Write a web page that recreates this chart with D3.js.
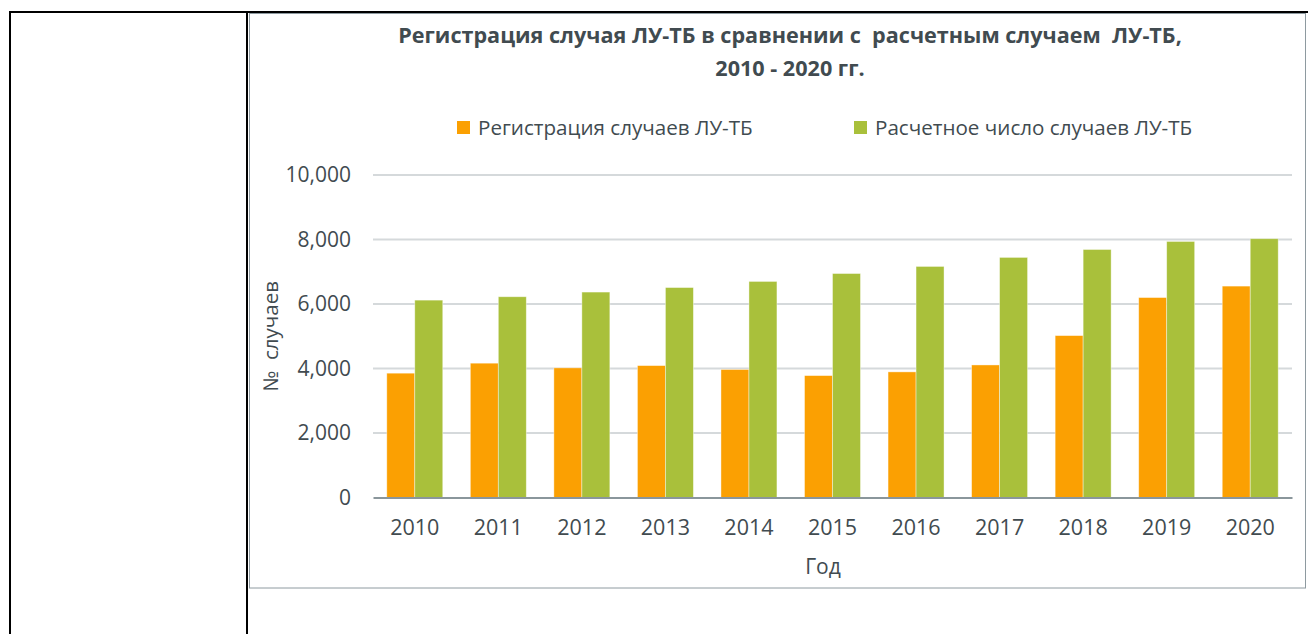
<!DOCTYPE html>
<html>
<head>
<meta charset="utf-8">
<script src="https://cdn.jsdelivr.net/npm/d3@7"></script>
<style>
  body { margin: 0; background: #fff; }
  svg { display: block; font-family: "Open Sans", sans-serif; }
</style>
</head>
<body>
<svg id="chart" width="1310" height="634"></svg>
<script>
// data
const years = ["2010", "2011", "2012", "2013", "2014", "2015", "2016", "2017", "2018", "2019", "2020"];
const registered = [3855, 4165, 4020, 4090, 3970, 3780, 3895, 4110, 5020, 6200, 6555];
const estimated = [6120, 6225, 6370, 6510, 6700, 6945, 7165, 7445, 7690, 7940, 8025];
const seriesNames = ["Регистрация случаев ЛУ-ТБ", "Расчетное число случаев ЛУ-ТБ"];
const yTicks = [0, 2000, 4000, 6000, 8000, 10000];

const colors = ["#FBA002", "#A9C03B"];
const textColor = "#414B50";

const svg = d3.select("#chart");

// table frame around the chart
svg.append("line").attr("x1", 10).attr("x2", 1308).attr("y1", 12).attr("y2", 12)
    .attr("stroke", "#000").attr("stroke-width", 2);
svg.append("line").attr("x1", 10).attr("x2", 10).attr("y1", 11).attr("y2", 634)
    .attr("stroke", "#000").attr("stroke-width", 2);
svg.append("line").attr("x1", 247).attr("x2", 247).attr("y1", 11).attr("y2", 634)
    .attr("stroke", "#000").attr("stroke-width", 2);

// chart area border
svg.append("rect")
    .attr("x", 249.5).attr("y", 13.5).attr("width", 1056).attr("height", 574.5)
    .attr("fill", "none").attr("stroke", "#8E9AA0").attr("stroke-width", 1);

const plotLeft = 373, plotRight = 1292, plotTop = 175, plotBottom = 497.5;

const x0 = d3.scaleBand().domain(years).range([plotLeft, plotRight]);
const x1 = d3.scaleBand().domain([0, 1])
    .range([x0.bandwidth() * 0.165, x0.bandwidth() * 0.835]);
const y = d3.scaleLinear().domain([0, 10000]).range([plotBottom, plotTop]);

// gridlines
svg.append("g").selectAll("line")
    .data(yTicks.filter(d => d > 0))
  .enter().append("line")
    .attr("x1", plotLeft).attr("x2", plotRight)
    .attr("y1", d => y(d)).attr("y2", d => y(d))
    .attr("stroke", "#D5D9DB").attr("stroke-width", 2);

// bars
const groups = svg.append("g").selectAll("g")
    .data(years)
  .enter().append("g")
    .attr("transform", d => `translate(${x0(d)},0)`);

groups.selectAll("rect")
    .data((d, i) => [registered[i], estimated[i]])
  .enter().append("rect")
    .attr("x", (d, j) => x1(j))
    .attr("width", x1.bandwidth())
    .attr("y", d => y(d))
    .attr("height", d => y(0) - y(d))
    .attr("fill", (d, j) => colors[j])
    .attr("stroke", "#fff").attr("stroke-opacity", 0.5).attr("stroke-width", 0.8);

// x axis
const xAxis = svg.append("g")
    .attr("transform", `translate(0,${plotBottom})`)
    .call(d3.axisBottom(x0).tickSize(0).tickPadding(22));
xAxis.select(".domain").attr("stroke", "#8A969B").attr("stroke-width", 2);
xAxis.selectAll("text")
    .attr("fill", textColor).style("font-size", "21.5px").style("font-family", "Open Sans");

// y axis
const yAxis = svg.append("g")
    .attr("transform", `translate(${plotLeft},0)`)
    .call(d3.axisLeft(y).tickValues(yTicks).tickSize(0).tickPadding(22).tickFormat(d3.format(",")));
yAxis.select(".domain").remove();
yAxis.selectAll("text")
    .attr("fill", textColor).style("font-size", "21px").style("font-family", "Open Sans");

// axis titles
svg.append("text")
    .attr("x", 823).attr("y", 574)
    .attr("text-anchor", "middle").attr("fill", textColor)
    .style("font-size", "21px").text("Год");

svg.append("text")
    .attr("transform", `translate(278,${(plotTop + plotBottom) / 2}) rotate(-90)`)
    .attr("text-anchor", "middle").attr("fill", textColor)
    .style("font-size", "20.5px").style("white-space", "pre").text("№  случаев");

// title
const title = svg.append("text")
    .attr("text-anchor", "middle").attr("fill", textColor)
    .style("font-size", "21.6px").style("font-weight", "bold").style("white-space", "pre");
title.append("tspan").attr("x", 790).attr("y", 43)
    .text("Регистрация случая ЛУ-ТБ в сравнении с  расчетным случаем  ЛУ-ТБ,");
title.append("tspan").attr("x", 790).attr("y", 76).text("2010 - 2020 гг.");

// legend
const legendX = [457, 854];
const legend = svg.append("g").selectAll("g")
    .data(seriesNames)
  .enter().append("g")
    .attr("transform", (d, i) => `translate(${legendX[i]},121)`);
legend.append("rect").attr("width", 13).attr("height", 13)
    .attr("fill", (d, i) => colors[i]);
legend.append("text").attr("x", 21).attr("y", 14)
    .attr("fill", textColor).style("font-size", "20.6px").text(d => d);
</script>
</body>
</html>
